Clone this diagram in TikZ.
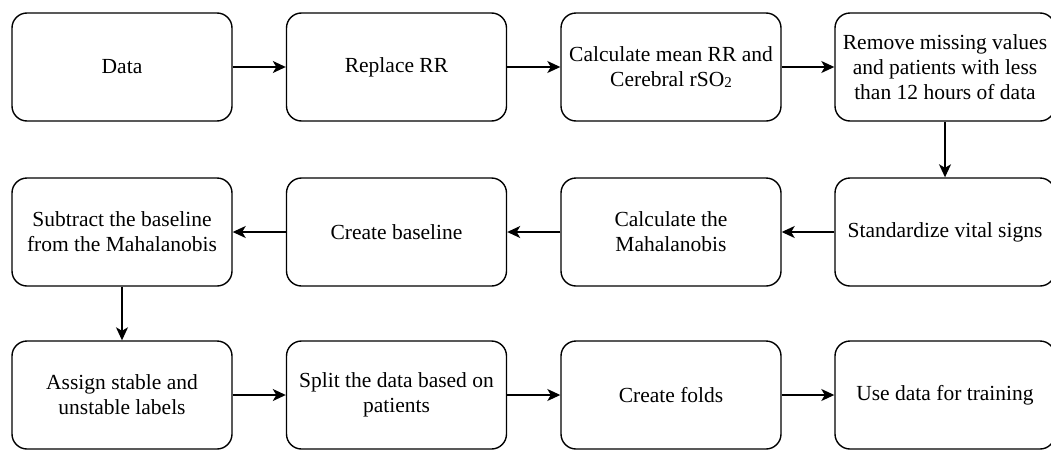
\documentclass[tikz,border=0pt]{standalone}
\usepackage{fontspec}
\setmainfont{Liberation Serif}
\usetikzlibrary{arrows.meta}

\tikzset{
  procbox/.style={draw, line width=1.4pt, rounded corners=15pt,
    minimum width=220pt, minimum height=108pt, align=center,
    inner sep=2pt, font=\fontsize{21.5}{25}\selectfont},
  flow/.style={line width=1.4pt, -{Stealth[length=13pt,width=12pt,inset=3.5pt]}}
}

\begin{document}
\begin{tikzpicture}[x=1pt, y=-1pt]
  \useasboundingbox (0,0) rectangle (1051,450);

  % First row, left to right
  \node [procbox] (data)    at (122,67)   {Data};
  \node [procbox] (replace) at (396.5,67) {Replace RR};
  \node [procbox] (mean)    at (671,67)   {Calculate mean RR and\\Cerebral rSO\raisebox{-1pt}{\fontsize{15}{15}\selectfont 2}};
  \node [procbox] (remove)  at (945,67)   {Remove missing values\\and patients with less\\than 12 hours of data};

  % Second row, right to left
  \node [procbox] (stand)    at (945,232)   {Standardize vital signs};
  \node [procbox] (mahal)    at (671,232)   {Calculate the\\Mahalanobis};
  \node [procbox] (baseline) at (396.5,232) {Create baseline};
  \node [procbox] (subtract) at (122,232)   {Subtract the baseline\\from the Mahalanobis};

  % Third row, left to right
  \node [procbox] (labels) at (122,395)   {Assign stable and\\unstable labels};
  \node [procbox] (split)  at (396.5,395) {Split the data based on\\patients};
  \node [procbox] (folds)  at (671,395)   {Create folds};
  \node [procbox] (train)  at (945,395)   {Use data for training};

  % Connectors
  \draw [flow] (data) -- (replace);
  \draw [flow] (replace) -- (mean);
  \draw [flow] (mean) -- (remove);
  \draw [flow] (remove) -- (stand);
  \draw [flow] (stand) -- (mahal);
  \draw [flow] (mahal) -- (baseline);
  \draw [flow] (baseline) -- (subtract);
  \draw [flow] (subtract) -- (labels);
  \draw [flow] (labels) -- (split);
  \draw [flow] (split) -- (folds);
  \draw [flow] (folds) -- (train);
\end{tikzpicture}
\end{document}
